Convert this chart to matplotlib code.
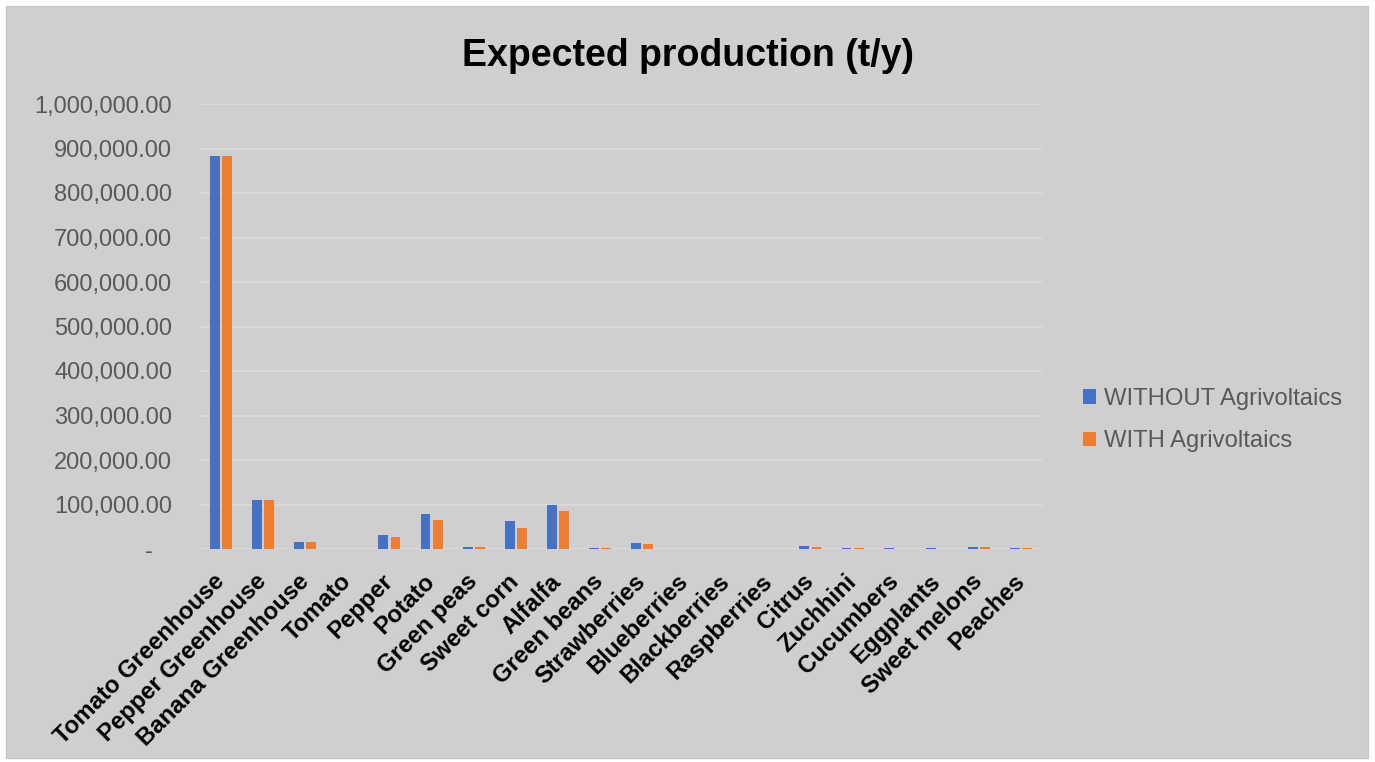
import matplotlib
matplotlib.use("Agg")
from matplotlib import pyplot as plt
from matplotlib.patches import Rectangle
from matplotlib.ticker import FuncFormatter
import numpy as np

crops = ["Tomato Greenhouse", "Pepper Greenhouse", "Banana Greenhouse", "Tomato",
         "Pepper", "Potato", "Green peas", "Sweet corn", "Alfalfa", "Green beans",
         "Strawberries", "Blueberries", "Blackberries", "Raspberries", "Citrus",
         "Zuchhini", "Cucumbers", "Eggplants", "Sweet melons", "Peaches"]

without_av = [883000, 109000, 16500, 300, 30600, 78000, 5200, 63700, 99000, 1500,
              14200, 600, 400, 400, 6800, 2000, 1500, 1500, 5000, 2000]
with_av = [883000, 109000, 16500, 250, 26100, 65300, 4500, 48000, 85600, 1300,
           12000, 500, 300, 300, 5200, 1500, 500, 500, 3800, 1500]

BLUE = "#4472C4"
ORANGE = "#ED7D31"
BG = "#d0cecf"
GREY_TXT = "#595959"

plt.rcParams["font.family"] = ["Liberation Sans", "DejaVu Sans"]

fig = plt.figure(figsize=(13.75, 7.62), dpi=100)
fig.patch.set_facecolor("white")
fig.add_artist(Rectangle((6 / 1375, 4 / 762), 1362 / 1375, 752 / 762,
                         transform=fig.transFigure, facecolor=BG,
                         edgecolor="#c8c6c7", lw=1, zorder=-10))

ax = fig.add_axes([200 / 1375, 213 / 762, 842 / 1375, 445 / 762])
ax.set_facecolor(BG)

x = np.arange(len(crops))
w = 0.235
ax.bar(x - 0.143, without_av, width=w, color=BLUE, label="WITHOUT Agrivoltaics", zorder=3)
ax.bar(x + 0.143, with_av, width=w, color=ORANGE, label="WITH Agrivoltaics", zorder=3)

ax.set_xlim(-0.5, len(crops) - 0.5)
ax.set_ylim(0, 1_000_000)
ax.set_yticks(np.arange(0, 1_000_001, 100_000))
ax.yaxis.set_major_formatter(FuncFormatter(lambda v, p: f"{v:,.2f}" if v else "-   "))
ax.yaxis.grid(True, color="#dcdadb", lw=1.3, zorder=0)
ax.tick_params(axis="y", length=0, labelsize=17, labelcolor=GREY_TXT, pad=20)
ax.tick_params(axis="x", length=0, pad=21)
ax.set_xticks(x)
ax.set_xticklabels(crops, rotation=45, ha="right", va="center", rotation_mode="anchor",
                   fontsize=17.2, fontweight="bold")
for s in ax.spines.values():
    s.set_visible(False)

fig.text(0.5007, 0.927, "Expected production (t/y)", ha="center", va="center",
         fontsize=27, fontweight="bold")

fig.legend(loc="center left", bbox_to_anchor=(1061 / 1375, 1 - 420 / 762),
           frameon=False, fontsize=17.2, labelcolor=GREY_TXT,
           handlelength=0.55, handleheight=0.55, handletextpad=0.35,
           labelspacing=0.85)

fig.savefig("out.png", dpi=100, facecolor=fig.get_facecolor())
